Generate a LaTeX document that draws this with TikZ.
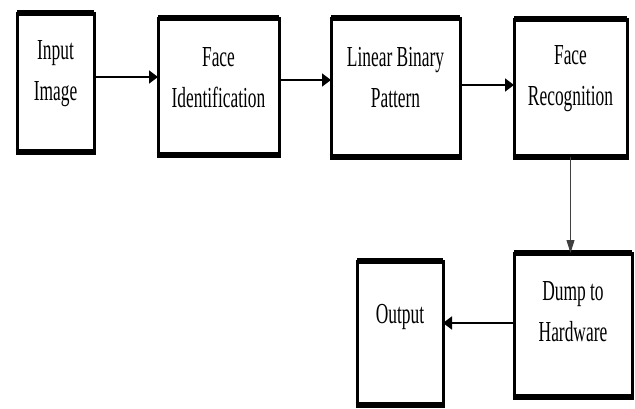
\documentclass[tikz,border=0pt]{standalone}
\usepackage{fontspec}
\newfontfamily\blockfont{Liberation Serif}[FakeStretch=0.6]
\usetikzlibrary{arrows.meta}

\tikzset{
  blk/.style args={#1x#2}{draw, line width=3pt, outer sep=0pt, inner sep=0pt,
    minimum width=#1pt, minimum height=#2pt},
  rim/.style={line width=5.5pt, shorten <=-1.5pt, shorten >=-1.5pt},
  lbl/.style={font=\blockfont\fontsize{29}{41}\selectfont, align=center, inner sep=0pt},
  arr/.style={line width=1.6pt, -{Triangle[length=9pt,width=13pt]}},
  downarr/.style={line width=1pt, black!75, -{Triangle[length=13pt,width=8pt]}}
}

\begin{document}
\begin{tikzpicture}[x=1pt,y=-1pt]
  \useasboundingbox (0,0) rectangle (635,408);

  \node[blk=77x139]  (inp)  at (55.5,82.5) {};
  \node[blk=121x137] (fid)  at (218.5,86.5) {};
  \node[blk=129x139] (lbp)  at (395.5,87.5) {};
  \node[blk=113x138] (frec) at (570.5,88) {};
  \node[blk=118x144] (dump) at (573,325) {};
  \node[blk=86x144]  (outp) at (400,333) {};

  \foreach \b in {inp,fid,lbp,frec,dump,outp}
    \draw[rim] (\b.north west) -- (\b.north east) (\b.south west) -- (\b.south east);

  \node[lbl] at ([yshift=9pt]inp.center)  {Input\\Image};
  \node[lbl] at ([yshift=9pt]fid.center)  {Face\\Identification};
  \node[lbl] at ([yshift=10pt]lbp.center) {Linear Binary\\Pattern};
  \node[lbl] at ([yshift=9pt]frec.center) {Face\\Recognition};
  \node[lbl] at ([yshift=13pt]dump.center) {Dump to\\Hardware};
  \node[lbl] at ([yshift=16pt]outp.center) {Output};

  \draw[arr] ([yshift=5.5pt]inp.east) -- ([yshift=5.5pt]inp.east -| fid.west);
  \draw[arr] ([yshift=6.5pt]fid.east) -- ([yshift=6.5pt]fid.east -| lbp.west);
  \draw[arr] ([yshift=2.5pt]lbp.east) -- ([yshift=2.5pt]lbp.east -| frec.west);
  \draw[downarr] (frec.south) -- (frec.south |- dump.north);
  \draw[arr] ([yshift=2pt]dump.west) -- ([yshift=2pt]dump.west -| outp.east);
\end{tikzpicture}
\end{document}
